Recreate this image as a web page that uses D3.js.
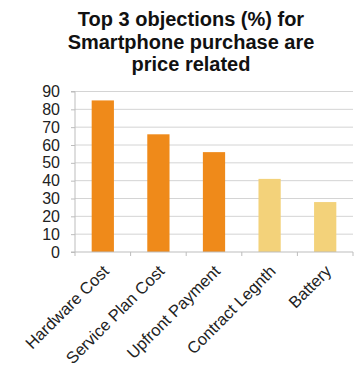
<!DOCTYPE html>
<html><head><meta charset="utf-8">
<script src="https://cdn.jsdelivr.net/npm/d3@7"></script>
<style>body{margin:0;background:#fff}svg{display:block}</style>
</head><body>
<script>
const titleLines = ["Top 3 objections (%) for", "Smartphone purchase are", "price related"];
const categories = ["Hardware Cost", "Service Plan Cost", "Upfront Payment", "Contract Legnth", "Battery"];
const values = [85, 66, 56, 41, 28];
const priceRelated = [true, true, true, false, false];
const yTicks = [0, 10, 20, 30, 40, 50, 60, 70, 80, 90];

const W = 361, H = 380;
const left = 75, right = 353;
const svg = d3.select("body").append("svg").attr("width", W).attr("height", H);
const font = "'Liberation Sans', Arial, sans-serif";

svg.append("text").attr("x", 191).attr("y", 26).attr("text-anchor", "middle")
  .attr("font-family", font).attr("font-weight", "bold").attr("font-size", 20).attr("fill", "#111")
  .selectAll("tspan").data(titleLines).join("tspan")
  .attr("x", 191).attr("dy", (d, i) => i ? 22.5 : 0).text(d => d);

const x = d3.scaleBand().domain(categories).range([left, right]).paddingInner(0.6).paddingOuter(0.3);
const y = d3.scaleLinear().domain([0, 90]).range([252, 91.5]);

const g = svg.append("g");
g.selectAll("line.grid").data(yTicks.filter(d => d > 0)).join("line")
  .attr("x1", left).attr("x2", right).attr("y1", d => y(d)).attr("y2", d => y(d))
  .attr("stroke", "#d4d4d4").attr("stroke-width", 1);

g.selectAll("rect").data(values).join("rect")
  .attr("x", (d, i) => x(categories[i])).attr("width", x.bandwidth())
  .attr("y", d => y(d)).attr("height", d => y(0) - y(d))
  .attr("fill", (d, i) => priceRelated[i] ? "#EF8A1A" : "#F3D27A");

const ya = svg.append("g").attr("transform", `translate(${left},0)`)
  .call(d3.axisLeft(y).tickValues(yTicks).tickSize(4).tickPadding(11));
ya.select(".domain").attr("stroke", "#bdbdbd").attr("d", `M-4,${y(0)}H0V${y(90)}H-4`);
ya.selectAll(".tick line").attr("stroke", "#bdbdbd");
ya.selectAll("text").attr("font-family", font).attr("font-size", 16).attr("fill", "#222");

const bounds = d3.range(categories.length + 1).map(i => left + i * (right - left) / categories.length);
const xa = svg.append("g");
xa.append("line").attr("x1", left).attr("x2", right).attr("y1", y(0)).attr("y2", y(0)).attr("stroke", "#bdbdbd");
xa.selectAll("line.t").data(bounds).join("line").attr("class", "t")
  .attr("x1", d => d).attr("x2", d => d).attr("y1", y(0)).attr("y2", y(0) + 4).attr("stroke", "#bdbdbd");
xa.selectAll("text").data(categories).join("text")
  .attr("transform", d => `translate(${x(d) + x.bandwidth() / 2 - 1},${y(0) + 12}) rotate(-45)`)
  .attr("text-anchor", "end").attr("dy", "0.7em")
  .attr("font-family", font).attr("font-size", 16.5).attr("fill", "#222").text(d => d);
</script>
</body></html>
